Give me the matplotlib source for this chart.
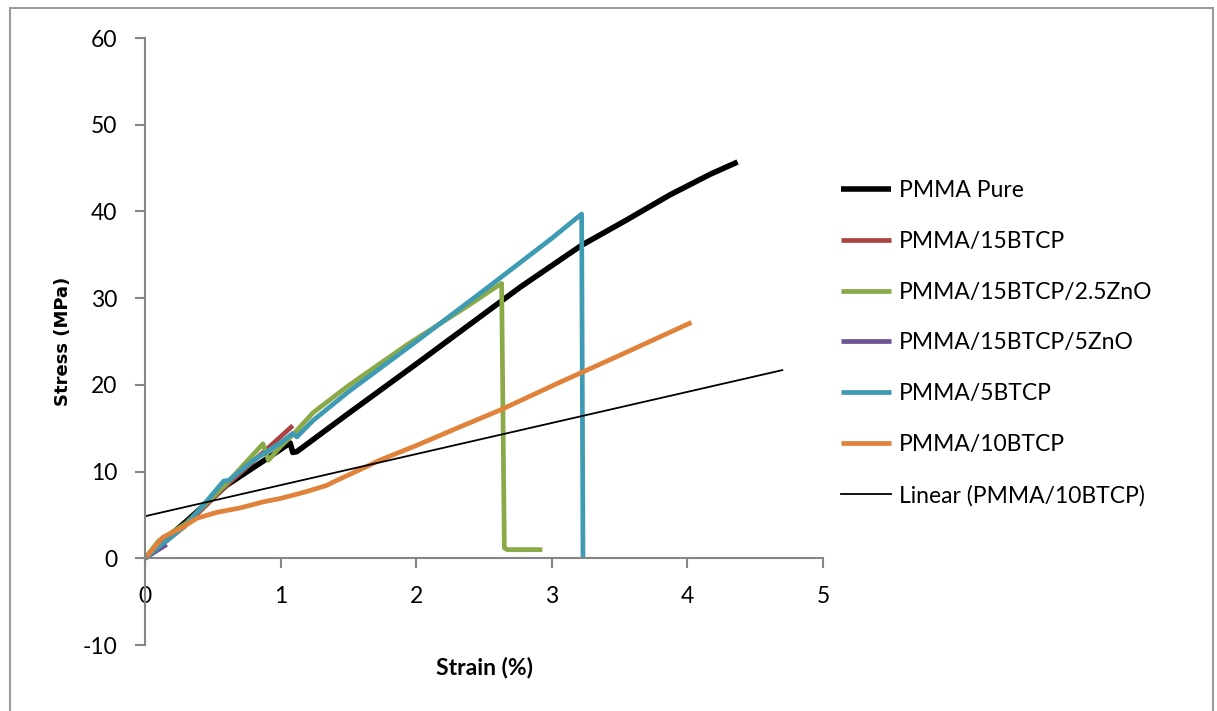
import matplotlib
matplotlib.use("Agg")
import matplotlib.pyplot as plt
from matplotlib.patches import Rectangle

# Stress-strain curves
pure_x = [0, 0.1, 0.3, 0.6, 0.9, 1.07, 1.09, 1.12, 1.5, 2.0, 2.77, 3.22, 3.55, 3.87, 4.17, 4.37]
pure_y = [0, 1.5, 4.2, 8.4, 11.5, 13.3, 12.2, 12.3, 16.7, 22.4, 31.3, 36.1, 39.0, 41.9, 44.3, 45.7]

b15_x = [0, 0.3, 0.6, 0.9, 1.09]
b15_y = [0, 3.8, 8.4, 12.6, 15.3]

zn25_x = [0, 0.1, 0.3, 0.6, 0.87, 0.91, 1.0, 1.1, 1.24, 1.5, 1.93, 2.2, 2.37, 2.57, 2.63, 2.65, 2.67, 2.93]
zn25_y = [0, 2.0, 4.0, 8.6, 13.2, 11.3, 12.9, 14.4, 16.8, 19.9, 24.6, 27.3, 29.0, 31.1, 31.7, 1.2, 1.0, 1.0]

zn5_x = [0, 0.08, 0.16]
zn5_y = [0, 0.8, 1.6]

b5_x = [0, 0.1, 0.3, 0.45, 0.58, 0.62, 0.8, 1.0, 1.09, 1.12, 1.24, 1.5, 2.0, 2.5, 3.0, 3.22, 3.23]
b5_y = [0, 1.3, 3.8, 6.5, 8.9, 9.0, 11.3, 13.3, 14.4, 14.0, 15.9, 19.2, 25.0, 30.9, 36.9, 39.7, 0]

b10_x = [0, 0.05, 0.13, 0.28, 0.38, 0.53, 0.70, 0.87, 1.0, 1.17, 1.34, 1.39, 1.61, 1.73,
         2.0, 2.3, 2.62, 3.06, 3.5, 4.03]
b10_y = [0, 0.9, 2.4, 3.6, 4.6, 5.3, 5.8, 6.5, 6.9, 7.6, 8.4, 8.8, 10.4, 11.3,
         13.0, 15.0, 17.1, 20.3, 23.4, 27.2]

# linear trendline (PMMA/10BTCP)
trend_intercept = 4.85
trend_slope = 3.585
trend_x = [0, 4.7]

x_ticks = [0, 1, 2, 3, 4, 5]
y_ticks = [-10, 0, 10, 20, 30, 40, 50, 60]

series = [
    ("PMMA Pure", pure_x, pure_y, "black", 4.0),
    ("PMMA/15BTCP", b15_x, b15_y, "#A94442", 3.4),
    ("PMMA/15BTCP/2.5ZnO", zn25_x, zn25_y, "#8AAA48", 3.4),
    ("PMMA/15BTCP/5ZnO", zn5_x, zn5_y, "#6B5394", 3.4),
    ("PMMA/5BTCP", b5_x, b5_y, "#3F9AB3", 3.4),
    ("PMMA/10BTCP", b10_x, b10_y, "#E0823A", 3.4),
]

plt.rcParams['font.family'] = ['Lato', 'DejaVu Sans']
plt.rcParams['axes.unicode_minus'] = False
fig = plt.figure(figsize=(12.17, 7.11), dpi=100)
ax = fig.add_axes([145/1217, 1-645/711, (823-145)/1217, (645-38)/711])

for name, xs, ys, col, lw in series:
    ax.plot(xs, ys, color=col, lw=lw, label=name, solid_capstyle="butt", solid_joinstyle="round")
ty = [trend_intercept + trend_slope*v for v in trend_x]
ax.plot(trend_x, ty, color="black", lw=1.3, label="Linear (PMMA/10BTCP)")

ax.set_xlim(0, 5)
ax.set_ylim(-10, 60)
ax.set_xticks(x_ticks)
ax.set_yticks(y_ticks)
ax.spines["top"].set_visible(False)
ax.spines["right"].set_visible(False)
ax.spines["bottom"].set_position(("data", 0))
for s in ("left", "bottom"):
    ax.spines[s].set_color("#868686")
    ax.spines[s].set_linewidth(1.5)
ax.tick_params(axis="both", direction="out", length=7, width=1.5, color="#868686",
               labelsize=16.5, pad=13)

ax.set_xlabel("Strain (%)", fontsize=16.5, fontweight="bold")
ax.xaxis.set_label_coords(0.5, -0.02)
ax.set_ylabel("Stress (MPa)", fontsize=13, fontweight="bold", family="DejaVu Sans")
ax.yaxis.set_label_coords((72-145)/678, 0.5)

ax.legend(loc="upper left", bbox_to_anchor=(841/1217, 1-180/711),
          bbox_transform=fig.transFigure, frameon=False, fontsize=16.5,
          handlelength=2.2, handletextpad=0.32, labelspacing=1.3,
          borderpad=0, borderaxespad=0)

fig.patches.append(Rectangle((10/1217, -0.02), 1203/1217, 1.02 - 8/711,
                             transform=fig.transFigure, fill=False,
                             edgecolor="#9a9a9a", lw=1.5))

fig.savefig("out.png", dpi=100)
